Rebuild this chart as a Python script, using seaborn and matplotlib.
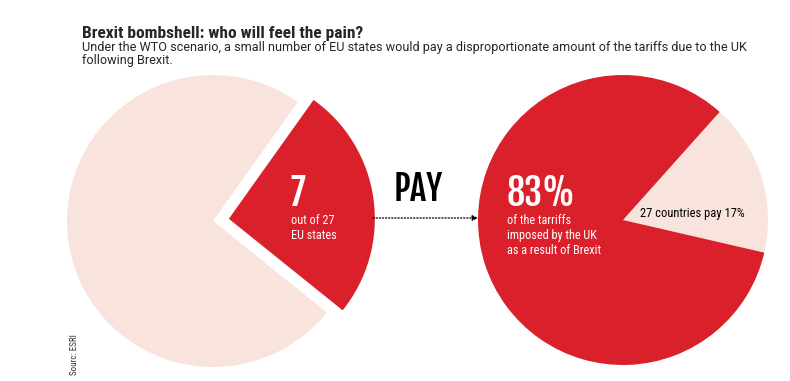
import matplotlib
matplotlib.use("Agg")
import matplotlib.pyplot as plt
import seaborn as sns

# data
states_labels = ["7 states", "other 20 states"]
states_values = [7, 20]
tariff_labels = ["27 countries", "7 countries"]
tariff_values = [17, 83]

RED = "#d9202b"
PINK = "#f8e4dc"
H = 381

sns.set_style("white")
COND = ["Roboto Condensed", "DejaVu Sans"]
BIG = ["Fjalla One", "Oswald", "Roboto Condensed", "DejaVu Sans"]
PLAIN = ["Roboto", "DejaVu Sans"]
plt.rcParams["font.family"] = COND

fig = plt.figure(figsize=(7.9, 3.81), dpi=100)
ax = fig.add_axes([0, 0, 1, 1])
ax.axis("off")

# left pie: 7 of 27 states, red wedge pulled out
ax.pie(states_values, colors=[RED, PINK], startangle=-38.8, counterclock=True,
       center=(213, H - 221), radius=146, explode=[16, 0],
       wedgeprops={"linewidth": 0})
# right pie: share of the tariffs
ax.pie(tariff_values, colors=[PINK, RED], startangle=-13, counterclock=True,
       center=(623, H - 220), radius=145, wedgeprops={"linewidth": 0})
ax.set_xlim(0, 790)
ax.set_ylim(0, H)
ax.set_aspect("equal")


def txt(x, y, s, **kw):
    # x, y in picture pixels from the top-left corner
    return ax.text(x, H - y, s, **kw)


txt(82, 38, "Brexit bombshell: who will feel the pain?", fontsize=12.5,
    fontweight="bold", va="baseline")
txt(82, 51, "Under the WTO scenario, a small number of EU states would pay a disproportionate amount of the tariffs due to the UK",
    fontsize=9.1, family=PLAIN, va="baseline")
txt(82, 64, "following Brexit.", fontsize=9.1, family=PLAIN, va="baseline")

txt(290, 206, "7", color="white", fontsize=26, family=BIG, va="baseline")
txt(291, 224, "out of 27", color="white", fontsize=8.8, va="baseline")
txt(291, 239, "EU states", color="white", fontsize=8.8, va="baseline")

txt(418, 201, "PAY", color="black", fontsize=25, family=BIG, ha="center", va="baseline")
ax.annotate("", xy=(478, H - 218), xytext=(373, H - 218),
            arrowprops=dict(arrowstyle="-|>", linestyle=(0, (1, 1.5)), color="black",
                            lw=0.9, mutation_scale=8, shrinkA=0, shrinkB=0))

txt(507, 206, "83%", color="white", fontsize=26, family=BIG, va="baseline")
txt(507, 224, "of the tarriffs", color="white", fontsize=8.8, va="baseline")
txt(507, 239, "imposed by the UK", color="white", fontsize=8.8, va="baseline")
txt(507, 254, "as a result of Brexit", color="white", fontsize=8.8, va="baseline")

txt(640, 217, "27 countries pay 17%", color="black", fontsize=9, va="baseline")

txt(79, 375, "Sourc: ESRI", rotation=90, fontsize=6.5, color="#333333", ha="right", va="bottom")

fig.savefig("out.png", dpi=100, facecolor="white")
